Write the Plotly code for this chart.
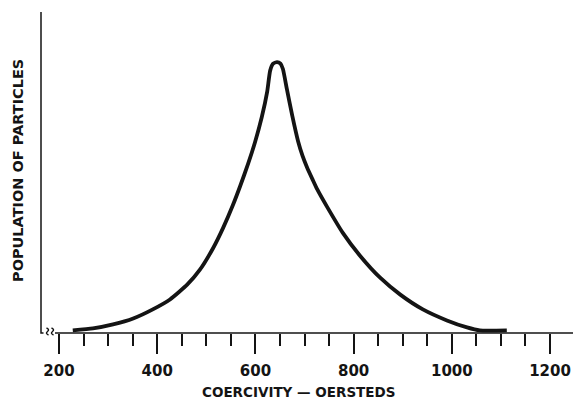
import plotly.graph_objects as go

# Data
coercivity = [228, 269, 310, 351, 391, 426, 461, 487, 514, 534, 554, 569, 585, 599, 613, 624,
              630, 636, 644, 651, 656, 664, 675, 687, 696, 705, 717, 726, 746, 778, 813, 854, 895,
              941, 990, 1031, 1057, 1112]
population = [0, 0.7, 2.2, 4.4, 7.8, 11.5, 17.0, 22.6, 30.7, 38.1, 46.6, 53.8, 62.0, 70.0, 79.5, 89.0,
              96.8, 99.4, 100, 99.4, 97.4, 90.0, 80.0, 70.4, 65.0, 60.8, 56.0, 52.5, 46.0, 36.3, 27.8,
              19.6, 13.3, 7.8, 3.7, 1.1, 0, 0]
major_ticks = [200, 400, 600, 800, 1000, 1200]
major_labels = ["200", "400", "600", "800", "1000", "1200"]
x_title = "COERCIVITY — OERSTEDS"
y_title = "POPULATION OF PARTICLES"

W, H = 573, 400
L, R, T, B = 41, 0, 10, 67
PW, PH = W - L - R, H - T - B


def px(x):
    return (x - L) / PW


def py(y):
    return (H - B - y) / PH


INK = "#141414"
FONT = "DejaVu Sans"

fig = go.Figure()
fig.add_trace(go.Scatter(
    x=coercivity, y=population, mode="lines",
    line=dict(color=INK, width=3.8, shape="spline", smoothing=0.5),
    hoverinfo="skip", showlegend=False,
))

shapes = []
# vertical axis with small hook at bottom
shapes.append(dict(type="path", xref="paper", yref="paper",
                   path=f"M{px(41)},{py(12)} L{px(41)},{py(333)} L{px(43.5)},{py(333)}",
                   line=dict(color=INK, width=1.5)))
# break squiggles
for cx in (47.5, 52.5):
    p = (f"M{px(cx-1)},{py(328)} Q{px(cx+2.5)},{py(329.5)} {px(cx)},{py(331.5)} "
         f"Q{px(cx-2.5)},{py(333.5)} {px(cx+1)},{py(335)}")
    shapes.append(dict(type="path", xref="paper", yref="paper", path=p,
                       line=dict(color=INK, width=1.4)))
# horizontal axis
shapes.append(dict(type="line", xref="paper", yref="paper",
                   x0=px(55), x1=1, y0=0, y1=0, line=dict(color=INK, width=1.5)))

fig.update_layout(
    width=W, height=H,
    margin=dict(l=L, r=R, t=T, b=B),
    paper_bgcolor="white", plot_bgcolor="white",
    shapes=shapes,
    xaxis=dict(
        range=[163.3, 1246.8], showgrid=False, zeroline=False, showline=False,
        tickvals=major_ticks, ticktext=major_labels,
        ticks="outside", ticklen=20, tickwidth=1.5, tickcolor=INK,
        minor=dict(dtick=50, tick0=0, ticks="outside", ticklen=12, tickwidth=1.5,
                   tickcolor=INK, showgrid=False),
        tickfont=dict(family=FONT, size=15, color=INK, weight="bold"),
        ticklabelstandoff=4,
    ),
    yaxis=dict(range=[-1, 119.4], visible=False),
    annotations=[
        dict(text=x_title, xref="paper", yref="paper", x=px(298.5), y=py(392),
             showarrow=False, font=dict(family=FONT, size=13.5, color=INK, weight="bold"),
             xanchor="center", yanchor="middle"),
        dict(text=y_title, xref="paper", yref="paper", x=px(18), y=py(171),
             showarrow=False, textangle=-90,
             font=dict(family=FONT, size=14.5, color=INK, weight="bold"),
             xanchor="center", yanchor="middle"),
    ],
)

fig.write_html("out.html", post_script="document.body.style.margin='0';",
               config={"displayModeBar": False})
